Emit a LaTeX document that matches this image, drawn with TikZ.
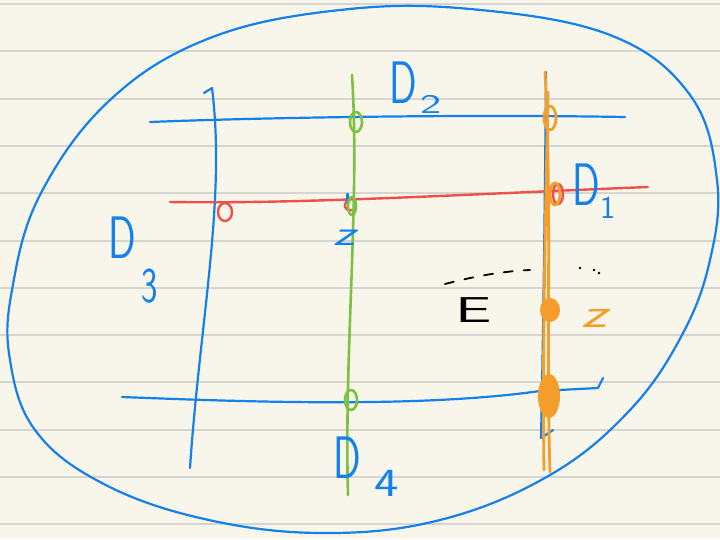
\documentclass[tikz,border=0pt]{standalone}
\usetikzlibrary{calc}
\definecolor{paper}{HTML}{F8F6EA}
\definecolor{rulec}{HTML}{D6D6D0}
\definecolor{pblue}{HTML}{1380EC}
\definecolor{pgreen}{HTML}{7CC242}
\definecolor{pred}{HTML}{F0504C}
\definecolor{porange}{HTML}{F59E2B}
\tikzset{
  bluepen/.style={pblue, line width=2.2},
  greenpen/.style={pgreen, line width=2.6},
  redpen/.style={pred, line width=2.4},
  orangepen/.style={porange, line width=2.8},
  lbl/.style={inner sep=0pt, anchor=base west},
  bigD/.style={lbl, pblue, font=\sffamily\fontsize{60}{60}\selectfont},
}
\newcommand{\narrowD}{\scalebox{0.68}[1]{D}}
\begin{document}
\begin{tikzpicture}[x=1pt,y=-1pt,line cap=round,line join=round]
\fill[paper] (0,0) rectangle (720,539);
\useasboundingbox (0,0) rectangle (720,539);
\foreach \k in {0,...,11} \draw[rulec, line width=2] (0,4+47.3*\k) -- (720,4+47.3*\k);
% big oval
\draw[bluepen] plot[smooth cycle, tension=0.65] coordinates {(340,10) (470,9) (610,35) (690,95) (717,180) (710,260) (682,335) (630,410) (550,475) (440,520) (320,533) (200,518) (100,482) (35,430) (10,360) (12,290) (40,195) (110,100) (210,38)};
% blue grid lines
\draw[bluepen] (150,122) .. controls (250,118) and (450,114) .. (625,117);
\draw[bluepen] (122,397) .. controls (250,402) and (420,408) .. (540,391) -- (598,388) -- (603,378);
\draw[bluepen] (204,93) -- (212,88) .. controls (226,200) and (200,320) .. (190,468);
\draw[bluepen] (546,72) .. controls (545,200) and (543,350) .. (541,438) -- (553,430);
% red line
\draw[redpen] (170,202) .. controls (300,204) and (450,195) .. (648,187);
\draw[redpen] (225,212) ellipse [x radius=7, y radius=9];
\draw[redpen] (350,199) .. controls (342,203) and (344,212) .. (352,210);
\draw[redpen] (558,194) ellipse [x radius=5, y radius=10];
% blue mark at crossing
\draw[pblue, line width=3] (347,194) -- (347,201);
% green line
\draw[greenpen] (352,75) .. controls (360,200) and (344,350) .. (348,495);
\draw[greenpen] (356,122) ellipse [x radius=6, y radius=10];
\draw[greenpen] (352,206) ellipse [x radius=4, y radius=9];
\draw[greenpen] (351,400) ellipse [x radius=6, y radius=10];
% orange line
\draw[orangepen] (545,72) .. controls (552,200) and (546,350) .. (550,472);
\draw[orangepen] (548,92) .. controls (546,200) and (542,350) .. (544,470);
\draw[orangepen] (550,118) ellipse [x radius=6, y radius=12];
\draw[orangepen] (555,194) ellipse [x radius=5, y radius=11];
\fill[porange] (550,310) ellipse [x radius=10, y radius=12];
\fill[porange] (549,396) ellipse [x radius=11, y radius=22];
% dashed curve above E
\draw[black, line width=1.8, dash pattern=on 9 off 11] (445,284) .. controls (475,276) and (505,271) .. (530,270);
\fill[black] (580,268) circle (1.3) (594,270) circle (1.3) (599,273) circle (1.3);
% labels
\node[bigD] (d2) at (389,103) {\narrowD};
\node[lbl, pblue, font=\sffamily\fontsize{30}{30}\selectfont] (d2s) at (420,113) {\scalebox{1.5}[0.9]{2}};
\node[bigD] (d1) at (572,205) {\narrowD};
\node[lbl, pblue, font=\sffamily\fontsize{32}{32}\selectfont] (d1s) at (600,218) {1};
\node[bigD] (d3) at (108,258) {\narrowD};
\node[lbl, pblue, font=\sffamily\fontsize{50}{50}\selectfont] (d3s) at (141,302) {\scalebox{0.7}[1]{3}};
\node[bigD] (d4) at (333,478) {\narrowD};
\node[lbl, pblue, font=\sffamily\fontsize{40}{40}\selectfont] (d4s) at (374,496) {\scalebox{1.3}[1]{4}};
\node[lbl, pblue, font=\sffamily\fontsize{36}{36}\itshape] (zb) at (333,245) {\scalebox{1.5}[1]{z}};
\node[lbl, porange, font=\sffamily\fontsize{42}{42}\itshape] (zo) at (581,327) {\scalebox{1.5}[1]{z}};
\node[lbl, black, font=\sffamily\fontsize{36}{36}\selectfont] (e) at (455,322) {\scalebox{1.8}[1]{E}};
\end{tikzpicture}
\end{document}
